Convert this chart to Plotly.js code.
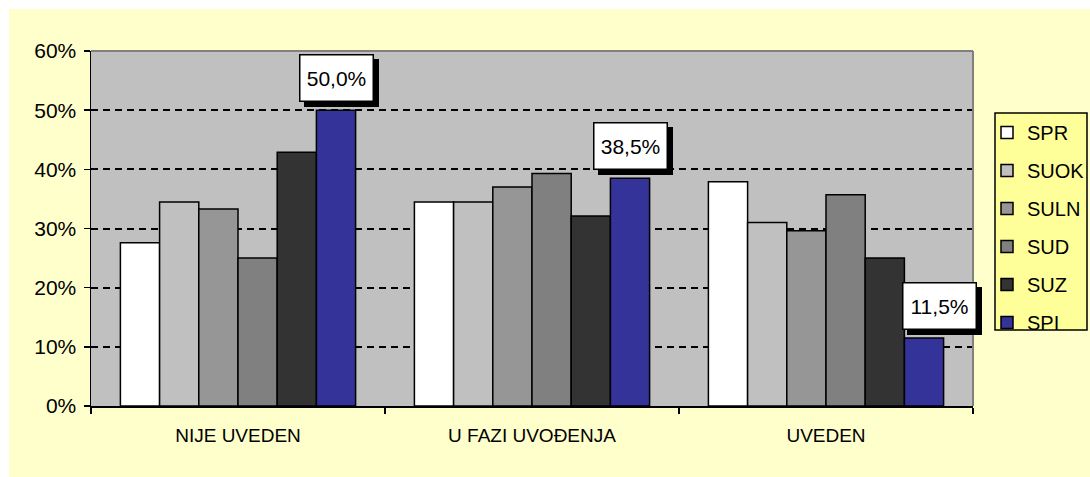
<!DOCTYPE html>
<html>
<head>
<meta charset="utf-8">
<script src="https://cdn.plot.ly/plotly-3.0.1.min.js"></script>
<style>
html,body{margin:0;padding:0;background:#ffffff;overflow:hidden;}
#chart{position:absolute;left:9px;top:9px;width:1081px;height:468px;}
</style>
</head>
<body>
<div id="chart"></div>
<script>
const categories = ["NIJE UVEDEN", "U FAZI UVOĐENJA", "UVEDEN"];
const seriesNames = ["SPR", "SUOK", "SULN", "SUD", "SUZ", "SPI"];
const SPR  = [27.6, 34.5, 37.9];
const SUOK = [34.5, 34.5, 31.0];
const SULN = [33.3, 37.0, 29.6];
const SUD  = [25.0, 39.3, 35.7];
const SUZ  = [42.9, 32.1, 25.0];
const SPI  = [50.0, 38.5, 11.5];
const yTicks = [0, 10, 20, 30, 40, 50, 60];

const seriesValues = [SPR, SUOK, SULN, SUD, SUZ, SPI];
const colors = ["#FFFFFF", "#C0C0C0", "#969696", "#808080", "#333333", "#333399"];

const FONT = "Arial, 'Liberation Sans', sans-serif";
const FS = 19;

const W = 1081, H = 468;
const M = {l: 82, r: 117, t: 42, b: 71};
const PW = W - M.l - M.r, PH = H - M.t - M.b;
// convert absolute page pixels (page offset 9,9) to paper coords
const px = x => (x - 9 - M.l) / PW;
const py = y => 1 - (y - 9 - M.t) / PH;

const traces = seriesNames.map((name, i) => ({
  type: "bar",
  name: name,
  x: categories,
  y: seriesValues[i],
  legendgroup: name,
  marker: {color: colors[i], line: {color: "#000000", width: 1.5}},
  hoverinfo: "skip"
}));

const annotations = [];
const barOffset = 98;
const extraShift = [0, 0, 15];
SPI.forEach((v, i) => {
  const txt = v.toFixed(1).replace(".", ",") + "%";
  // drop shadow box
  annotations.push({
    x: categories[i], y: v, xref: "x", yref: "y",
    xshift: barOffset + extraShift[i] + 5, yshift: 8 - 5,
    yanchor: "bottom", xanchor: "center",
    text: "\u00a0", showarrow: false,
    font: {family: FONT, size: 21, color: "#000000"},
    bgcolor: "#000000", bordercolor: "#000000", borderwidth: 1.5, borderpad: 1,
    width: 70, height: 43
  });
  annotations.push({
    x: categories[i], y: v, xref: "x", yref: "y",
    xshift: barOffset + extraShift[i], yshift: 8,
    yanchor: "bottom", xanchor: "center",
    text: txt, showarrow: false,
    font: {family: FONT, size: 21, color: "#000000"},
    bgcolor: "#FFFFFF", bordercolor: "#000000", borderwidth: 1.5, borderpad: 1,
    width: 70, height: 43
  });
});

const layout = {
  width: W, height: H,
  margin: {l: M.l, r: M.r, t: M.t, b: M.b, pad: 0, autoexpand: false},
  paper_bgcolor: "#FFFFCC",
  plot_bgcolor: "#C0C0C0",
  font: {family: FONT, size: FS, color: "#000000"},
  barmode: "group",
  bargap: 0.2,
  bargroupgap: 0,
  xaxis: {
    type: "category",
    range: [-0.5, categories.length - 0.5],
    autorange: false,
    showline: true, linecolor: "#000000", linewidth: 1.5,
    ticks: "outside", ticklen: 6, tickcolor: "#000000", tickwidth: 1.5,
    tickson: "boundaries",
    ticklabelstandoff: 12,
    showgrid: false, zeroline: false,
    tickfont: {family: FONT, size: FS, color: "#000000"}
  },
  yaxis: {
    range: [0, 60],
    autorange: false,
    tickvals: yTicks,
    ticktext: yTicks.map(t => t + "%"),
    showline: true, linecolor: "#000000", linewidth: 1.5,
    ticks: "outside", ticklen: 6, tickcolor: "#000000", tickwidth: 1.5,
    ticklabelstandoff: 3,
    showgrid: true, gridcolor: "#000000", gridwidth: 2, griddash: "7px,5px",
    zeroline: false,
    tickfont: {family: FONT, size: 21, color: "#000000"}
  },
  legend: {
    xref: "container", yref: "container",
    x: (987 - 9) / W, xanchor: "left", y: 1 - (113 - 9) / H, yanchor: "top",
    bgcolor: "rgba(0,0,0,0)", borderwidth: 0,
    font: {family: FONT, size: 20, color: "#000000"},
    itemwidth: 30,
    tracegroupgap: 9,
    traceorder: "grouped"
  },
  shapes: [
    {type: "line", xref: "paper", yref: "paper", x0: 0, x1: 1, y0: 1, y1: 1, line: {color: "#808080", width: 2}},
    {type: "line", xref: "paper", yref: "paper", x0: 1, x1: 1, y0: 0, y1: 1, line: {color: "#808080", width: 2}},
    {type: "rect", xref: "paper", yref: "paper", layer: "above",
     x0: px(995), x1: px(1087), y0: py(330), y1: py(113),
     fillcolor: "#FFFF99", line: {color: "#000000", width: 1.5}}
  ],
  annotations: annotations,
  showlegend: true
};

Plotly.newPlot("chart", traces, layout, {displayModeBar: false, staticPlot: true});
</script>
</body>
</html>
